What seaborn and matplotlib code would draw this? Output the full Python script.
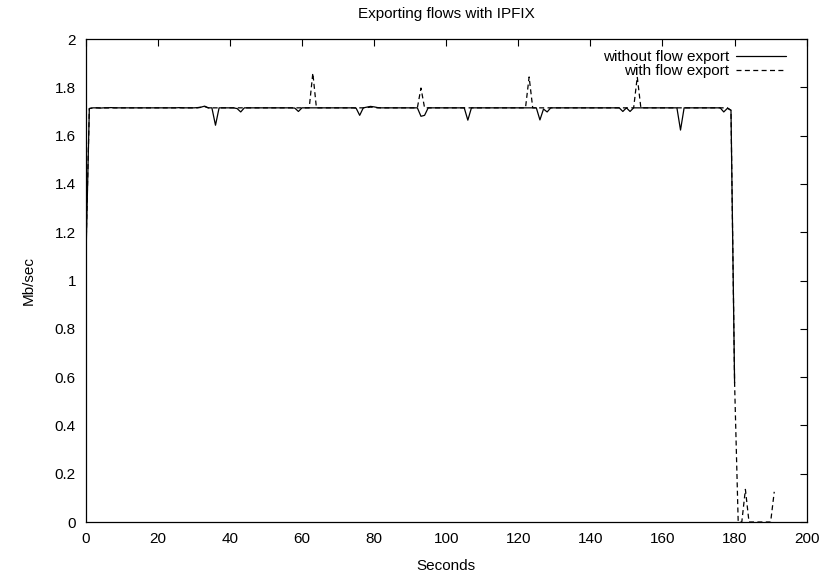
import matplotlib
matplotlib.use("Agg")
import matplotlib.pyplot as plt
from matplotlib.ticker import MultipleLocator, FuncFormatter
import seaborn as sns

# ---- data ----
seconds_without = list(range(0, 181))
without_export = [
    1.050, 1.712, 1.715, 1.715, 1.714, 1.715, 1.715, 1.716, 1.715, 1.715,   # 0-9
    1.715, 1.715, 1.715, 1.715, 1.715, 1.715, 1.715, 1.715, 1.715, 1.715,   # 10-19
    1.715, 1.715, 1.715, 1.715, 1.715, 1.715, 1.716, 1.715, 1.715, 1.715,   # 20-29
    1.715, 1.716, 1.718, 1.722, 1.715, 1.715, 1.643, 1.715, 1.715, 1.715,   # 30-39
    1.715, 1.715, 1.712, 1.698, 1.715, 1.715, 1.715, 1.715, 1.715, 1.715,   # 40-49
    1.715, 1.715, 1.715, 1.715, 1.715, 1.715, 1.715, 1.715, 1.714, 1.700,   # 50-59
    1.715, 1.715, 1.715, 1.715, 1.715, 1.715, 1.715, 1.715, 1.715, 1.715,   # 60-69
    1.715, 1.715, 1.715, 1.715, 1.715, 1.714, 1.684, 1.715, 1.718, 1.721,   # 70-79
    1.719, 1.716, 1.715, 1.715, 1.715, 1.715, 1.715, 1.715, 1.715, 1.715,   # 80-89
    1.715, 1.715, 1.715, 1.680, 1.684, 1.715, 1.715, 1.715, 1.715, 1.715,   # 90-99
    1.715, 1.715, 1.715, 1.715, 1.715, 1.715, 1.664, 1.715, 1.715, 1.715,   # 100-109
    1.715, 1.715, 1.715, 1.715, 1.715, 1.715, 1.715, 1.715, 1.715, 1.715,   # 110-119
    1.715, 1.715, 1.715, 1.715, 1.715, 1.715, 1.665, 1.710, 1.698, 1.715,   # 120-129
    1.715, 1.715, 1.715, 1.715, 1.715, 1.715, 1.715, 1.715, 1.715, 1.715,   # 130-139
    1.715, 1.715, 1.715, 1.715, 1.715, 1.715, 1.715, 1.715, 1.715, 1.700,   # 140-149
    1.715, 1.700, 1.715, 1.715, 1.715, 1.715, 1.715, 1.715, 1.715, 1.715,   # 150-159
    1.715, 1.715, 1.715, 1.715, 1.715, 1.623, 1.715, 1.715, 1.715, 1.715,   # 160-169
    1.715, 1.715, 1.715, 1.715, 1.715, 1.715, 1.715, 1.698, 1.713, 1.705,   # 170-179
    0.575,                                                                   # 180
]

seconds_with = list(range(0, 192))
with_export = [
    1.080, 1.712, 1.715, 1.715, 1.715, 1.715, 1.715, 1.715, 1.715, 1.715,   # 0-9
    1.715, 1.715, 1.715, 1.715, 1.715, 1.715, 1.715, 1.715, 1.715, 1.715,   # 10-19
    1.715, 1.715, 1.715, 1.715, 1.715, 1.715, 1.715, 1.715, 1.715, 1.715,   # 20-29
    1.715, 1.715, 1.717, 1.720, 1.715, 1.715, 1.715, 1.715, 1.715, 1.715,   # 30-39
    1.715, 1.715, 1.715, 1.715, 1.715, 1.715, 1.715, 1.715, 1.715, 1.715,   # 40-49
    1.715, 1.715, 1.715, 1.715, 1.715, 1.715, 1.715, 1.715, 1.715, 1.715,   # 50-59
    1.715, 1.715, 1.715, 1.859, 1.715, 1.715, 1.715, 1.715, 1.715, 1.715,   # 60-69
    1.715, 1.715, 1.715, 1.715, 1.715, 1.715, 1.715, 1.715, 1.716, 1.718,   # 70-79
    1.717, 1.715, 1.715, 1.715, 1.715, 1.715, 1.715, 1.715, 1.715, 1.715,   # 80-89
    1.715, 1.715, 1.715, 1.797, 1.715, 1.715, 1.715, 1.715, 1.715, 1.715,   # 90-99
    1.715, 1.715, 1.715, 1.715, 1.715, 1.715, 1.715, 1.715, 1.715, 1.715,   # 100-109
    1.715, 1.715, 1.715, 1.715, 1.715, 1.715, 1.715, 1.715, 1.715, 1.715,   # 110-119
    1.715, 1.715, 1.715, 1.843, 1.715, 1.715, 1.715, 1.715, 1.715, 1.715,   # 120-129
    1.715, 1.715, 1.715, 1.715, 1.715, 1.715, 1.715, 1.715, 1.715, 1.715,   # 130-139
    1.715, 1.715, 1.715, 1.715, 1.715, 1.715, 1.715, 1.715, 1.715, 1.715,   # 140-149
    1.715, 1.715, 1.715, 1.843, 1.715, 1.715, 1.715, 1.715, 1.715, 1.715,   # 150-159
    1.715, 1.715, 1.715, 1.715, 1.715, 1.715, 1.715, 1.715, 1.715, 1.715,   # 160-169
    1.715, 1.715, 1.715, 1.715, 1.715, 1.715, 1.715, 1.715, 1.715, 1.705,   # 170-179
    0.575, 0.000, 0.000, 0.135, 0.000, 0.000, 0.000, 0.000, 0.000, 0.000,   # 180-189
    0.000, 0.125,                                                            # 190-191
]

title = "Exporting flows with IPFIX"
x_label = "Seconds"
y_label = "Mb/sec"
label_without = "without flow export"
label_with = "with flow export"

# ---- style ----
sns.set_theme(style="white")
plt.rcParams["font.family"] = ["Liberation Sans", "DejaVu Sans"]
for k in ["text.color", "axes.labelcolor", "xtick.color", "ytick.color", "axes.edgecolor"]:
    plt.rcParams[k] = "black"

FS = 11

fig = plt.figure(figsize=(8.25, 5.73), dpi=100)
ax = fig.add_axes([0.1039, 0.089, 0.8739, 0.8429])

sns.lineplot(x=seconds_without, y=without_export, ax=ax, color="black",
             linewidth=0.9, label=label_without)
sns.lineplot(x=seconds_with, y=with_export, ax=ax, color="black",
             linewidth=0.9, linestyle=(0, (4, 2.7)), label=label_with)

ax.set_xlim(0, 200)
ax.set_ylim(0, 2)
ax.xaxis.set_major_locator(MultipleLocator(20))
ax.yaxis.set_major_locator(MultipleLocator(0.2))
ax.yaxis.set_major_formatter(FuncFormatter(lambda v, p: f"{round(v, 1):g}"))

ax.tick_params(direction="in", length=5, width=0.8, top=True, right=True,
               labelsize=FS, colors="black")
ax.tick_params(axis="x", pad=7.5)
ax.tick_params(axis="y", pad=7)
for s in ax.spines.values():
    s.set_linewidth(0.9)
    s.set_color("black")

ax.set_title(title, fontsize=FS, pad=15)
ax.set_xlabel(x_label, fontsize=FS, labelpad=9)
ax.set_ylabel(y_label, fontsize=FS, labelpad=14)

ax.legend(loc="upper right", bbox_to_anchor=(0.972, 0.977), frameon=False,
          markerfirst=False, handlelength=3.3, handletextpad=0.45,
          labelspacing=0.0, borderpad=0, borderaxespad=0, fontsize=FS)

fig.savefig("out.png", dpi=100)
